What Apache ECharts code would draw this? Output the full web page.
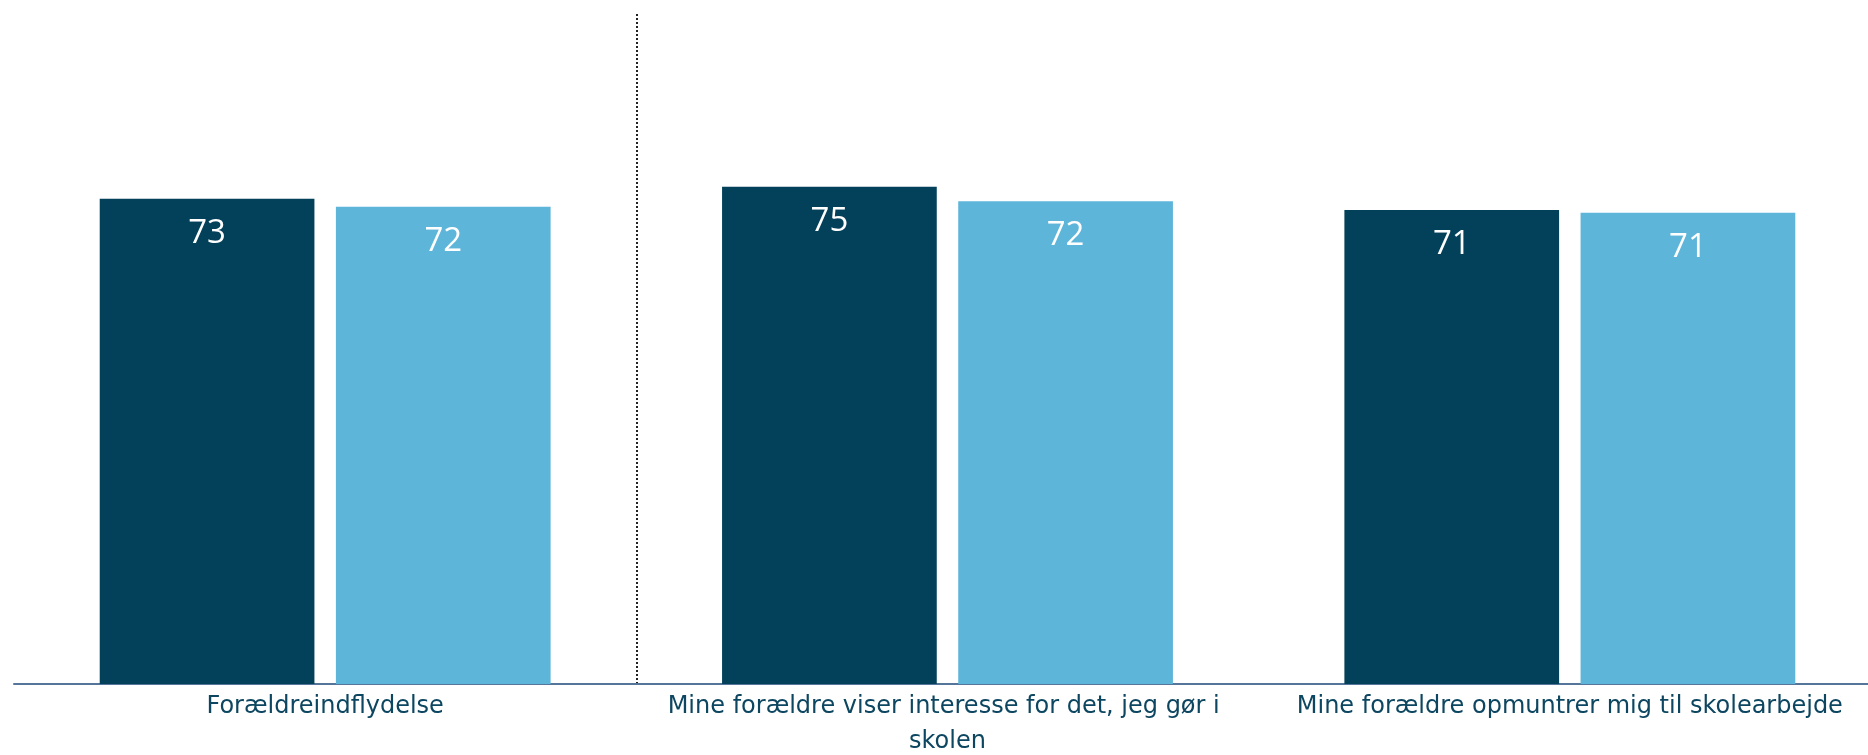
<!DOCTYPE html>
<html>
<head>
<meta charset="utf-8">
<script src="https://cdn.jsdelivr.net/npm/echarts@6/dist/echarts.min.js"></script>
<style>
html,body{margin:0;padding:0;background:#fff;}
#chart{width:1868px;height:755px;}
</style>
</head>
<body>
<div id="chart"></div>
<script>
const categories = [
  'Forældreindflydelse',
  'Mine forældre viser interesse for det, jeg gør i skolen',
  'Mine forældre opmuntrer mig til skolearbejde'
];
const seriesA = [72.8, 74.6, 71.1];
const seriesB = [71.6, 72.4, 70.7];
// category boundaries (used only for the dashed divider after the first group)
const boundaries = ['b0', 'b1', 'b2', 'b3'];

const chart = echarts.init(document.getElementById('chart'), null, {renderer: 'canvas'});
const labelFont = "'DejaVu Sans', Verdana, sans-serif";
const barLabel = {
  show: true,
  position: 'insideTop',
  distance: 18,
  color: '#ffffff',
  fontSize: 33,
  fontFamily: "'Open Sans', 'Noto Sans', sans-serif",
  formatter: p => Math.round(p.value)
};
chart.setOption({
  animation: false,
  backgroundColor: '#ffffff',
  grid: {left: 14, right: -13, top: 14, bottom: 71, containLabel: false, outerBoundsMode: 'none'},
  xAxis: [
    {
      type: 'category',
      data: categories,
      boundaryGap: true,
      axisLine: {show: true, lineStyle: {color: '#56759a', width: 2}},
      axisTick: {show: false},
      splitLine: {show: false},
      axisLabel: {
        interval: 0,
        margin: 5,
        color: '#0d4660',
        fontSize: 24,
        lineHeight: 35,
        fontFamily: labelFont,
        width: 600,
        overflow: 'break',
        align: 'center'
      }
    },
    {
      type: 'category',
      data: boundaries,
      boundaryGap: false,
      position: 'bottom',
      axisLine: {show: false},
      axisTick: {show: false},
      axisLabel: {show: false},
      splitLine: {
        show: true,
        interval: (idx) => idx === 1,
        lineStyle: {color: '#222222', type: [2, 2], width: 2}
      }
    }
  ],
  yAxis: {
    type: 'value',
    min: 0,
    max: 100.5,
    show: false,
    splitLine: {show: false}
  },
  series: [
    {
      type: 'bar',
      xAxisIndex: 0,
      data: seriesA,
      barWidth: '34.5%',
      barGap: '10%',
      itemStyle: {color: '#03405a'},
      label: barLabel
    },
    {
      type: 'bar',
      xAxisIndex: 0,
      data: seriesB,
      barWidth: '34.5%',
      barGap: '10%',
      itemStyle: {color: '#5eb5da'},
      label: barLabel
    }
  ]
});
</script>
</body>
</html>
